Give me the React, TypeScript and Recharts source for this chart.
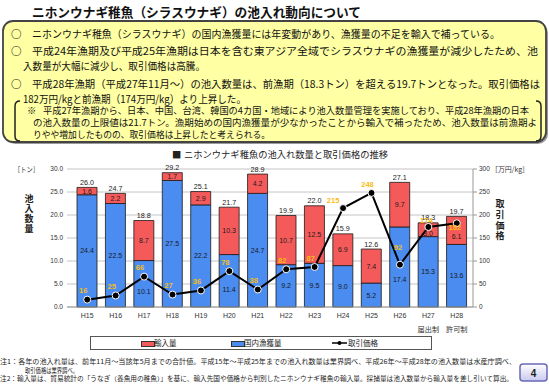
import React from 'react';
import { ComposedChart, Bar, Line, XAxis, YAxis, CartesianGrid, LabelList, Legend } from 'recharts';

const years = ['H15', 'H16', 'H17', 'H18', 'H19', 'H20', 'H21', 'H22', 'H23', 'H24', 'H25', 'H26', 'H27', 'H28'];
const regimeLabels = ['', '', '', '', '', '', '', '', '', '', '', '', '届出制', '許可制'];
const domesticCatch = [24.4, 22.5, 10.1, 27.5, 22.2, 11.4, 24.7, 9.2, 9.5, 9.0, 5.2, 17.4, 15.3, 13.6];
const importVolume = [1.6, 2.2, 8.7, 1.7, 2.9, 10.3, 4.2, 10.7, 12.5, 6.9, 7.4, 9.7, 3.0, 6.1];
const totalVolume = [26.0, 24.7, 18.8, 29.2, 25.1, 21.7, 28.9, 19.9, 22.0, 15.9, 12.6, 27.1, 18.3, 19.7];
const tradePrice = [16, 25, 66, 27, 36, 78, 38, 82, 87, 215, 248, 92, 174, 182];
const volumeTicks = [0, 5, 10, 15, 20, 25, 30];
const priceTicks = [0, 50, 100, 150, 200, 250, 300];
const seriesNames = { imports: '輸入量', domestic: '国内漁獲量', price: '取引価格' };

const data = years.map((year, i) => ({
  year,
  regime: regimeLabels[i],
  domestic: domesticCatch[i],
  imports: importVolume[i],
  total: totalVolume[i],
  price: tradePrice[i],
}));

const JP = '"Noto Sans CJK JP", "Noto Sans", sans-serif';
const NUM = '"Liberation Sans", Arial, sans-serif';
const BLUE = '#4a8cf0';
const RED = '#f55a5a';
const GOLD = '#f7bd14';

// label nudges (styling only)
const domesticShift: Record<number, number> = { 2: 8, 5: 9, 11: 13 };
const importShift: Record<number, number> = { 12: 4, 13: 6 };
const priceShift: Record<number, [number, number]> = { 9: [-10, -8], 11: [-2, -17], 12: [-2, -7], 13: [-2, 4] };

const CenterLabel = (shift: Record<number, number>) => (props: any) => {
  const { x, y, width, height, value, index } = props;
  const dy = shift[index] || 0;
  return (
    <text x={x + width / 2} y={y + height / 2 + dy + 2.5} textAnchor="middle" fontSize={7} fontFamily={NUM} fill="#1a1a1a">
      {Number(value).toFixed(1)}
    </text>
  );
};

const TotalLabel = (props: any) => {
  const { x, y, width, index } = props;
  return (
    <text x={x + width / 2} y={y - 2.5} textAnchor="middle" fontSize={7.2} fontFamily={NUM} fill="#222">
      {totalVolume[index].toFixed(1)}
    </text>
  );
};

const PriceLabel = (props: any) => {
  const { x, y, value, index } = props;
  const [dx, dy] = priceShift[index] || [-4, -9];
  return (
    <text x={x + dx} y={y + dy + 2.7} textAnchor="middle" fontSize={7.6} fontWeight="bold" fontFamily={NUM} fill={GOLD}>
      {value}
    </text>
  );
};

const YearTick = (props: any) => {
  const { x, y, payload } = props;
  const i = years.indexOf(payload.value);
  const regime = regimeLabels[i];
  return (
    <g>
      <text x={x} y={y + 7} textAnchor="middle" fontSize={7} fontFamily={NUM} fill="#333">{payload.value}</text>
      {regime ? (
        <text x={x} y={y + 21} textAnchor="middle" fontSize={7.2} fontFamily={JP} fill="#333">{regime}</text>
      ) : null}
    </g>
  );
};

const LegendBox = () => (
  <div style={{ position: 'relative', width: 342, height: 14, border: '1px solid #555', boxSizing: 'border-box', background: '#fff', fontFamily: JP, fontSize: 7.5, color: '#222' }}>
    <div style={{ position: 'absolute', left: 50, top: 4, width: 12, height: 4, background: RED, border: '0.5px solid #333' }} />
    <div style={{ position: 'absolute', left: 63, top: 0, lineHeight: '12px' }}>{seriesNames.imports}</div>
    <div style={{ position: 'absolute', left: 140, top: 4, width: 12, height: 4, background: BLUE, border: '0.5px solid #333' }} />
    <div style={{ position: 'absolute', left: 153, top: 0, lineHeight: '12px' }}>{seriesNames.domestic}</div>
    <svg style={{ position: 'absolute', left: 241, top: 2 }} width={15} height={8}>
      <line x1={0} y1={4} x2={15} y2={4} stroke="#000" strokeWidth={1.5} />
      <circle cx={7.5} cy={4} r={2} fill="#000" />
    </svg>
    <div style={{ position: 'absolute', left: 257, top: 0, lineHeight: '12px' }}>{seriesNames.price}</div>
  </div>
);

const T = (p: any) => (
  <text x={p.x} y={p.y} fontSize={p.size} fontFamily={p.family || JP} fontWeight={p.weight || 'normal'}
    fill={p.fill || '#111'} textAnchor={p.anchor} textLength={p.len} lengthAdjust={p.len ? 'spacingAndGlyphs' : undefined}>
    {p.children}
  </text>
);

const Vertical = ({ x, top, spacing, text, size }: any) => (
  <text x={x} y={top} fontSize={size} fontFamily={JP} fontWeight="bold" fill="#222"
    style={{ writingMode: 'vertical-rl', letterSpacing: spacing }}>{text}</text>
);

const Decor = () => (
  <svg width={549} height={386} style={{ position: 'absolute', left: 0, top: 0 }}>
    <defs>
      <linearGradient id="pg" x1="0" y1="0" x2="0" y2="1">
        <stop offset="0" stopColor="#ffffff" />
        <stop offset="1" stopColor="#c9c9ef" />
      </linearGradient>
    </defs>
    <T x={32} y={17} size={13} weight="bold" len={329}>ニホンウナギ稚魚（シラスウナギ）の池入れ動向について</T>
    <rect x={5} y={23} width={543} height={121} rx={10} fill="#9a9a9a" />
    <rect x={3} y={21} width={543} height={121} rx={10} fill="#ffffa3" stroke="#444" strokeWidth={1.8} />
    <T x={11} y={38} size={10.5} weight="bold">○</T>
    <T x={32} y={38} size={10.5} len={468}>ニホンウナギ稚魚（シラスウナギ）の国内漁獲量には年変動があり、漁獲量の不足を輸入で補っている。</T>
    <T x={11} y={55} size={10.5} weight="bold">○</T>
    <T x={32} y={55} size={10.5} len={506}>平成24年漁期及び平成25年漁期は日本を含む東アジア全域でシラスウナギの漁獲量が減少したため、池</T>
    <T x={23} y={70} size={10.5} len={182}>入数量が大幅に減少し、取引価格は高騰。</T>
    <T x={11} y={88} size={10.5} weight="bold">○</T>
    <T x={32} y={88} size={10.5} len={508}>平成28年漁期（平成27年11月～）の池入数量は、前漁期（18.3トン）を超える19.7トンとなった。取引価格は</T>
    <T x={23} y={103} size={10.5} len={223}>182万円/kgと前漁期（174万円/kg）より上昇した。</T>
    <path d="M 20 101 Q 15 101 15 106 L 15 136 Q 15 141 20 141" fill="none" stroke="#222" strokeWidth={1.5} />
    <path d="M 536 101 Q 541 101 541 106 L 541 136 Q 541 141 536 141" fill="none" stroke="#222" strokeWidth={1.5} />
    <T x={27} y={114} size={9.3}>※</T>
    <T x={43} y={114} size={9.3} len={486}>平成27年漁期から、日本、中国、台湾、韓国の4カ国・地域により池入数量管理を実施しており、平成28年漁期の日本</T>
    <T x={33} y={126} size={9.3} len={504}>の池入数量の上限値は21.7トン。漁期始めの国内漁獲量が少なかったことから輸入で補ったため、池入数量は前漁期よ</T>
    <T x={33} y={138} size={9.3} len={237}>りやや増加したものの、取引価格は上昇したと考えられる。</T>

    <T x={172} y={158} size={9.3} fill="#222">■</T>
    <T x={184} y={158} size={9.3} len={204} fill="#222">ニホンウナギ稚魚の池入れ数量と取引価格の推移</T>

    <T x={14} y={171.5} size={7} len={25} fill="#333">［トン］</T>
    <Vertical x={29} top={194.5} spacing={1} text="池入数量" size={9} />
    <T x={491} y={171.5} size={7} len={38} fill="#333">［万円/kg］</T>
    <Vertical x={500} top={199.5} spacing={1.6} text="取引価格" size={9} />

    <T x={0} y={364} size={6.3} len={516} fill="#222">注1：各年の池入れ量は、前年11月～当該年5月までの合計値。平成15年～平成25年までの池入れ数量は業界調べ、平成26年～平成28年の池入数量は水産庁調べ、</T>
    <T x={25} y={372.5} size={6.3} len={53} fill="#222">取引価格は業界調べ。</T>
    <T x={0} y={381} size={6.3} len={513} fill="#222">注2：輸入量は、貿易統計の「うなぎ（養魚用の稚魚）」を基に、輸入先国や価格から判別したニホンウナギ稚魚の輸入量。採捕量は池入数量から輸入量を差し引いて算出。</T>

    <rect x={520} y={364} width={27} height={17} rx={3} fill="url(#pg)" stroke="#6a6ab8" strokeWidth={1.5} />
    <T x={533.5} y={376.5} size={10} weight="bold" anchor="middle" family={NUM} fill="#222">4</T>
  </svg>
);

export default function App() {
  return (
    <div style={{ position: 'absolute', left: 0, top: 0, width: 549, height: 386, background: '#fff', overflow: 'hidden' }}>
      <Decor />
      <div style={{ position: 'absolute', left: 0, top: 0 }}>
        <ComposedChart width={549} height={386} data={data} margin={{ top: 169, right: 36, bottom: 35, left: 27 }}>
          <CartesianGrid horizontal vertical={false} stroke="#c4c4c4" yAxisId="vol" />
          <XAxis dataKey="year" axisLine={{ stroke: '#999' }} tickLine={false} tickSize={0} tickMargin={4}
            height={30} padding={{ left: 6, right: 2 }} tick={<YearTick />} interval={0} />
          <YAxis yAxisId="vol" domain={[0, 30]} ticks={volumeTicks} width={40} axisLine={false} tickLine={false}
            tickSize={0} tickMargin={4} tickFormatter={(v: number) => v.toFixed(1)}
            tick={{ fontSize: 6.5, fontFamily: NUM, fill: '#333' }} />
          <YAxis yAxisId="price" orientation="right" domain={[0, 300]} ticks={priceTicks} width={40}
            axisLine={{ stroke: '#999' }} tickLine={{ stroke: '#999' }} tickSize={4} tickMargin={2}
            tick={{ fontSize: 6.5, fontFamily: NUM, fill: '#333' }} />
          <Legend verticalAlign="bottom" content={() => <LegendBox />}
            wrapperStyle={{ left: 90, top: 336, width: 342, height: 14 }} />
          <Bar yAxisId="vol" dataKey="domestic" name={seriesNames.domestic} stackId="v" fill={BLUE} stroke="#1a1a1a"
            strokeWidth={0.8} barSize={20} isAnimationActive={false}>
            <LabelList dataKey="domestic" content={CenterLabel(domesticShift)} />
          </Bar>
          <Bar yAxisId="vol" dataKey="imports" name={seriesNames.imports} stackId="v" fill={RED} stroke="#1a1a1a"
            strokeWidth={0.8} barSize={20} isAnimationActive={false}>
            <LabelList dataKey="imports" content={CenterLabel(importShift)} />
            <LabelList dataKey="total" content={TotalLabel} />
          </Bar>
          <Line yAxisId="price" dataKey="price" name={seriesNames.price} stroke="#000" strokeWidth={2}
            dot={{ r: 3.5, fill: '#000', stroke: '#fff', strokeWidth: 1 }} activeDot={false} isAnimationActive={false}>
            <LabelList dataKey="price" content={PriceLabel} />
          </Line>
        </ComposedChart>
      </div>
    </div>
  );
}
